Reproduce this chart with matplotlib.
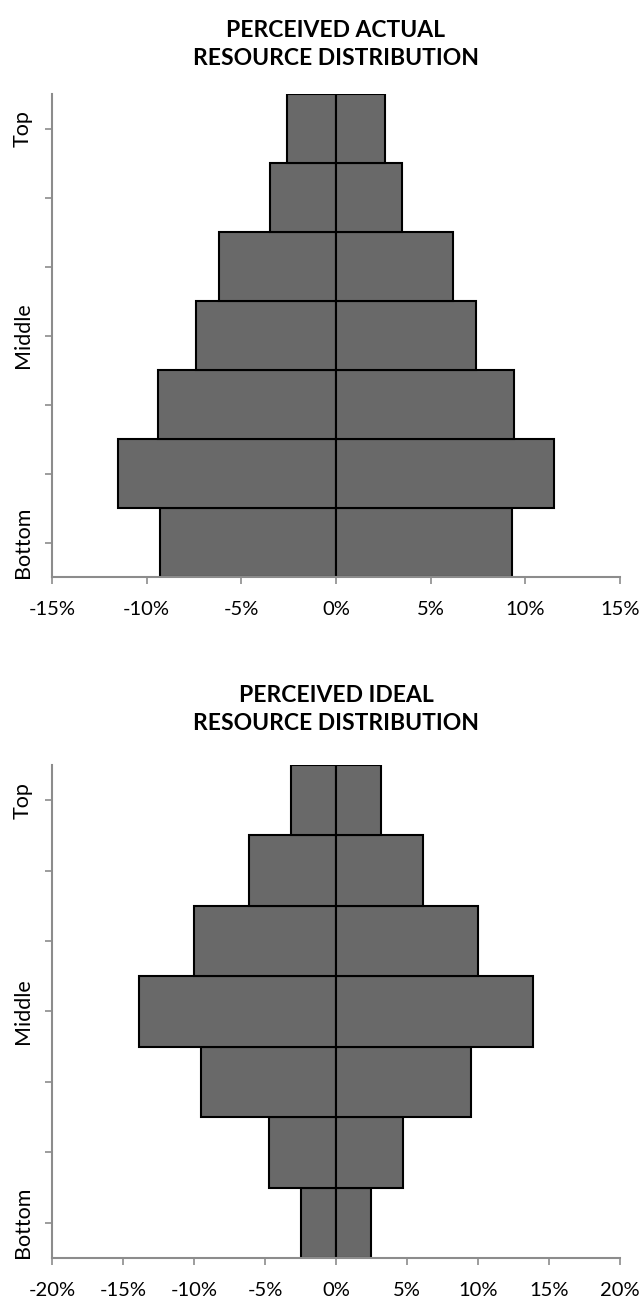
import matplotlib.pyplot as plt
from matplotlib.ticker import FuncFormatter

plt.rcParams['font.family'] = ['Lato', 'DejaVu Sans']

levels = ['Bottom', '', '', 'Middle', '', '', 'Top']
# share at each level, bottom -> top (% on each side of the pyramid)
actual = [9.3, 11.5, 9.4, 7.4, 6.2, 3.5, 2.6]
ideal = [2.45, 4.7, 9.5, 13.9, 10.0, 6.1, 3.2]

panels = [
    ("PERCEIVED ACTUAL\nRESOURCE DISTRIBUTION", actual, 15, [-15, -10, -5, 0, 5, 10, 15]),
    ("PERCEIVED IDEAL\nRESOURCE DISTRIBUTION", ideal, 20, [-20, -15, -10, -5, 0, 5, 10, 15, 20]),
]

fig = plt.figure(figsize=(6.41, 12.99), dpi=100)
rects = [[0.0811, 0.5558, 0.886, 0.3718], [0.0811, 0.0316, 0.886, 0.3795]]
title_pads = [21, 25]
spine_col = '#8c8c8c'

for rect, tpad, (title, vals, lim, xt) in zip(rects, title_pads, panels):
    ax = fig.add_axes(rect)
    y = range(len(vals))
    ax.barh(y, [-v for v in vals], height=1.0, color='#696969', edgecolor='black', linewidth=1.5)
    ax.barh(y, vals, height=1.0, color='#696969', edgecolor='black', linewidth=1.5)
    ax.set_xlim(-lim, lim)
    ax.set_ylim(-0.5, len(vals) - 0.5)
    ax.set_xticks(xt)
    ax.xaxis.set_major_formatter(FuncFormatter(lambda v, p: f"{v:.0f}%"))
    ax.set_yticks(list(y))
    ax.set_yticklabels(levels, rotation=90, va='center')
    for s in ['top', 'right']:
        ax.spines[s].set_visible(False)
    for s in ['left', 'bottom']:
        ax.spines[s].set_color(spine_col)
        ax.spines[s].set_linewidth(1.5)
    ax.tick_params(axis='both', length=5, width=1.2, color=spine_col)
    ax.tick_params(axis='x', labelsize=14.5, pad=12)
    ax.tick_params(axis='y', labelsize=15.5, pad=9)
    ax.set_title(title, fontsize=16.5, fontweight='bold', linespacing=1.4, pad=tpad)

fig.savefig('out.png', dpi=100)
